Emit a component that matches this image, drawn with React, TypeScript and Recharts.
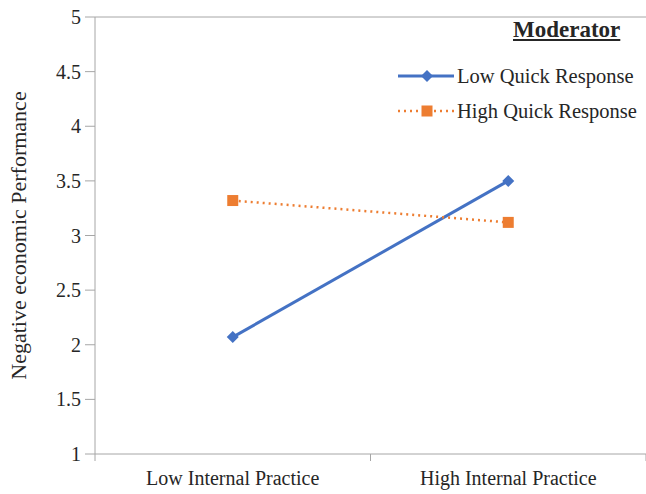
import { Line, LineChart, ReferenceLine, XAxis, YAxis } from 'recharts';

const categories = ['Low Internal Practice', 'High Internal Practice'];
const lowQuick = [2.07, 3.5];
const highQuick = [3.32, 3.12];
const yTicks = [1, 1.5, 2, 2.5, 3, 3.5, 4, 4.5, 5];

const data = categories.map((c, i) => ({ name: c, low: lowQuick[i], high: highQuick[i] }));

const BLUE = '#4472C4';
const ORANGE = '#ED7D31';
const AXIS = '#a6a6a6';
const TEXT = '#262626';
const FONT = '"Liberation Serif", "Times New Roman", serif';

const W = 646;
const H = 494;
const Y_AXIS_W = 95;
const HALF_BAND = (W - Y_AXIS_W) / categories.length / 2;

function Diamond(props: any) {
  const { cx, cy } = props;
  if (cx == null || cy == null) return null;
  const r = 6;
  return <path d={`M${cx},${cy - r}L${cx + r},${cy}L${cx},${cy + r}L${cx - r},${cy}Z`} fill={BLUE} />;
}

function Square(props: any) {
  const { cx, cy } = props;
  if (cx == null || cy == null) return null;
  const s = 11;
  return <rect x={cx - s / 2} y={cy - s / 2} width={s} height={s} fill={ORANGE} />;
}

// category label in the band centre, tick mark on the band's left edge
function CategoryTick(props: any) {
  const { x, y, payload, index } = props;
  const axisY = y - 8; // recharts puts the tick at axis + tickSize(6) + tickMargin(2)
  return (
    <g>
      <line x1={x - HALF_BAND} y1={axisY} x2={x - HALF_BAND} y2={axisY + 7} stroke={AXIS} />
      {index === categories.length - 1 && (
        <line x1={x + HALF_BAND} y1={axisY} x2={x + HALF_BAND} y2={axisY + 7} stroke={AXIS} />
      )}
      <text x={x} y={axisY + 31} textAnchor="middle" fill={TEXT} fontSize={20} fontFamily={FONT}>
        {payload.value}
      </text>
    </g>
  );
}

function ModeratorLegend() {
  return (
    <div style={{ position: 'absolute', left: 0, top: 0, fontFamily: FONT, color: TEXT, pointerEvents: 'none' }}>
      <div
        style={{
          position: 'absolute',
          left: 513,
          top: 16,
          whiteSpace: 'nowrap',
          fontWeight: 'bold',
          textDecoration: 'underline',
          fontSize: 23,
          lineHeight: '28px',
        }}
      >
        Moderator
      </div>
      <div style={{ position: 'absolute', left: 397, top: 63, display: 'flex', alignItems: 'center', whiteSpace: 'nowrap', height: 26 }}>
        <svg width={60} height={14}>
          <line x1={1} y1={7} x2={57} y2={7} stroke={BLUE} strokeWidth={3} />
          <path d="M30,1L36,7L30,13L24,7Z" fill={BLUE} />
        </svg>
        <span style={{ fontSize: 20.5, lineHeight: '26px' }}>Low Quick Response</span>
      </div>
      <div style={{ position: 'absolute', left: 397, top: 98, display: 'flex', alignItems: 'center', whiteSpace: 'nowrap', height: 26 }}>
        <svg width={60} height={14}>
          <line x1={1} y1={7} x2={57} y2={7} stroke={ORANGE} strokeWidth={2.5} strokeDasharray="2 4" />
          <rect x={24.5} y={1.5} width={11} height={11} fill={ORANGE} />
        </svg>
        <span style={{ fontSize: 20.5, lineHeight: '26px' }}>High Quick Response</span>
      </div>
    </div>
  );
}

export default function App() {
  return (
    <div style={{ position: 'absolute', left: 0, top: 0, width: W, height: H, background: '#fff' }}>
      <LineChart width={W} height={H} data={data} margin={{ top: 17, right: 0, bottom: 0, left: 0 }}>
        <XAxis
          dataKey="name"
          height={40}
          stroke={AXIS}
          tickLine={false}
          tick={<CategoryTick />}
          interval={0}
          padding={{ left: HALF_BAND, right: HALF_BAND }}
        />
        <YAxis
          width={Y_AXIS_W}
          domain={[1, 5]}
          ticks={yTicks}
          stroke={AXIS}
          tickLine={{ stroke: AXIS }}
          tickSize={10}
          tickMargin={4}
          tick={{ fill: TEXT, fontSize: 20, fontFamily: FONT }}
          label={{
            value: 'Negative economic Performance',
            angle: -90,
            position: 'insideLeft',
            offset: 18,
            style: { textAnchor: 'middle', fill: TEXT, fontSize: 22, fontFamily: FONT },
          }}
        />
        <ReferenceLine y={5} stroke={AXIS} />
        <Line
          dataKey="low"
          name="Low Quick Response"
          stroke={BLUE}
          strokeWidth={3}
          dot={<Diamond />}
          activeDot={false}
          isAnimationActive={false}
        />
        <Line
          dataKey="high"
          name="High Quick Response"
          stroke={ORANGE}
          strokeWidth={2.5}
          strokeDasharray="2 4"
          dot={<Square />}
          activeDot={false}
          isAnimationActive={false}
        />
      </LineChart>
      <ModeratorLegend />
    </div>
  );
}
